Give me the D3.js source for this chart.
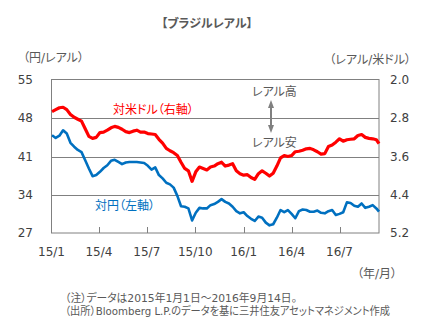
<!DOCTYPE html>
<html><head><meta charset="utf-8">
<script src="https://cdn.jsdelivr.net/npm/d3@7"></script>
<style>
body{margin:0;background:#fff}
text{font-family:"DejaVu Sans","Noto Sans CJK JP",sans-serif;font-feature-settings:"palt"}
.jp{font-family:"Noto Sans CJK JP",sans-serif}
</style>
</head><body><svg id="c" width="436" height="331"></svg>
<script>
// weekly observations from 2015-01-02, last one 2016-09-14
const startDate = "2015-01-02";
const endDate = "2016-09-14";
const usdBrl = [2.66,2.62,2.58,2.57,2.62,2.72,2.78,2.82,2.86,3.02,3.18,3.22,3.20,3.10,3.09,3.05,3.00,2.97,2.99,3.03,
  3.08,3.10,3.07,3.05,3.09,3.09,3.12,3.13,3.14,3.24,3.32,3.43,3.48,3.52,3.58,3.72,3.85,3.90,4.12,3.92,
  3.82,3.85,3.88,3.82,3.80,3.75,3.72,3.80,3.78,3.75,3.90,3.96,3.99,3.98,4.04,4.08,3.96,3.90,3.95,4.01,
  3.95,3.80,3.63,3.58,3.60,3.58,3.50,3.49,3.47,3.44,3.43,3.46,3.50,3.55,3.54,3.39,3.36,3.30,3.23,3.28,
  3.25,3.24,3.23,3.16,3.14,3.20,3.22,3.23,3.25,3.33];
const jpyBrl = [44.9,44.4,44.8,45.8,45.2,43.5,42.8,42.2,41.8,40.3,38.8,37.4,37.6,38.2,38.9,39.4,40.2,40.4,40.0,39.6,
  39.9,40.0,40.0,40.0,39.9,39.8,39.3,38.6,39.0,37.6,37.0,36.2,35.9,35.3,33.8,31.9,31.8,31.5,29.3,30.7,
  31.6,31.5,31.5,32.1,32.3,32.7,33.2,32.7,32.4,31.8,31.0,30.6,30.8,30.1,29.6,29.2,30.0,29.8,28.9,28.4,
  28.6,29.8,31.2,30.8,31.2,30.5,29.7,31.0,31.3,31.2,30.9,30.9,31.1,30.7,30.6,31.0,31.2,30.3,30.5,30.8,
  32.6,32.5,32.0,31.8,32.4,31.6,31.8,32.1,31.5,30.9];
const leftTicks = [27,34,41,48,55];
const rightTicks = [2.0,2.8,3.6,4.4,5.2];
const xTickDates = ["2015-01-01","2015-04-01","2015-07-01","2015-10-01","2016-01-01","2016-04-01","2016-07-01"];
const xTickLabels = ["15/1","15/4","15/7","15/10","16/1","16/4","16/7"];

const parse = d3.timeParse("%Y-%m-%d");
const dates = usdBrl.slice(0,-1).map((_,i)=>d3.timeDay.offset(parse(startDate),7*i));
dates.push(parse(endDate));

const svg = d3.select("#c");
const L=51.5, R=379, T=80, B=233;
const x = d3.scaleTime().domain([parse("2015-01-01"), parse(endDate)]).range([L,R]);
const yL = d3.scaleLinear().domain([27,55]).range([B,T]);
const yR = d3.scaleLinear().domain([2.0,5.2]).range([T,B]);
const grey="#808080", txt="#404040", ann="#595959";

// gridlines
svg.append("g").selectAll("line").data(leftTicks.slice(1,-1)).join("line")
  .attr("x1",L).attr("x2",R).attr("y1",d=>Math.round(yL(d))+0.5).attr("y2",d=>Math.round(yL(d))+0.5)
  .attr("stroke",grey).attr("stroke-width",1);
// frame
svg.append("rect").attr("x",L).attr("y",T-0.5).attr("width",R-L).attr("height",B-T+0.5)
  .attr("fill","none").attr("stroke",grey).attr("stroke-width",1);
// x ticks (inside)
svg.append("g").selectAll("line").data(xTickDates.slice(1)).join("line")
  .attr("x1",d=>Math.round(x(parse(d)))+0.5).attr("x2",d=>Math.round(x(parse(d)))+0.5)
  .attr("y1",B).attr("y2",B-6).attr("stroke",grey);

// axes labels
svg.append("g").selectAll("text").data(leftTicks).join("text")
  .attr("x",33).attr("y",d=>yL(d)).attr("dy","0.35em").attr("text-anchor","end")
  .attr("font-size",12).attr("fill",txt).text(d=>d);
svg.append("g").selectAll("text").data(rightTicks).join("text")
  .attr("x",390).attr("y",d=>yR(d)).attr("dy","0.35em")
  .attr("font-size",12).attr("fill",txt).text(d=>d.toFixed(1));
svg.append("g").selectAll("text").data(xTickDates).join("text")
  .attr("x",(d)=>x(parse(d))).attr("y",252).attr("dy","0.35em").attr("text-anchor","middle")
  .attr("font-size",12).attr("fill",txt).text((d,i)=>xTickLabels[i]);

// lines
const lineL = d3.line().x((d,i)=>x(dates[i])).y(d=>yL(d));
const lineR = d3.line().x((d,i)=>x(dates[i])).y(d=>yR(d));
svg.append("path").datum(jpyBrl).attr("d",lineL).attr("fill","none")
  .attr("stroke","#0070C0").attr("stroke-width",2.6).attr("stroke-linejoin","round");
svg.append("path").datum(usdBrl).attr("d",lineR).attr("fill","none")
  .attr("stroke","#FF0000").attr("stroke-width",3.2).attr("stroke-linejoin","round");

// texts
function t(s,xx,yy,opt={}){
  const e = svg.append("text").attr("x",xx).attr("y",yy).attr("dy","0.35em")
   .attr("font-size",opt.size||12).attr("fill",opt.fill||ann)
   .attr("text-anchor",opt.anchor||"start").attr("font-weight",opt.bold?"bold":null)
   .attr("class",opt.jp?"jp":null).text(s);
  if(opt.len) e.attr("textLength",opt.len).attr("lengthAdjust","spacingAndGlyphs");
  return e;
}
t("【ブラジルレアル】",207,24,{anchor:"middle",bold:true,size:12,jp:true});
t("（円/レアル）",23,58,{size:12});
t("（レアル/米ドル）",411,60,{size:12,anchor:"end"});
t("（年/月）",397,274,{size:12,anchor:"end"});
t("対米ドル（右軸）",113,110,{size:12,fill:"#FF0000",jp:true});
t("対円（左軸）",95,206,{size:12,fill:"#0070C0",jp:true});
t("レアル高",252,92,{size:12,jp:true});
t("レアル安",252,143,{size:12,jp:true});
t("（注）データは2015年1月1日～2016年9月14日。",65,298,{size:11,len:232});
t("（出所）Bloomberg L.P.のデータを基に三井住友アセットマネジメント作成",65,311,{size:11,len:325});

// double arrow
const ax=271;
svg.append("line").attr("x1",ax).attr("x2",ax).attr("y1",106).attr("y2",127).attr("stroke","#808080").attr("stroke-width",2);
svg.append("path").attr("d",`M${ax},100 L${ax-3},108 L${ax+3},108 Z M${ax},133 L${ax-3},125 L${ax+3},125 Z`).attr("fill","#808080");
</script>
</body></html>
